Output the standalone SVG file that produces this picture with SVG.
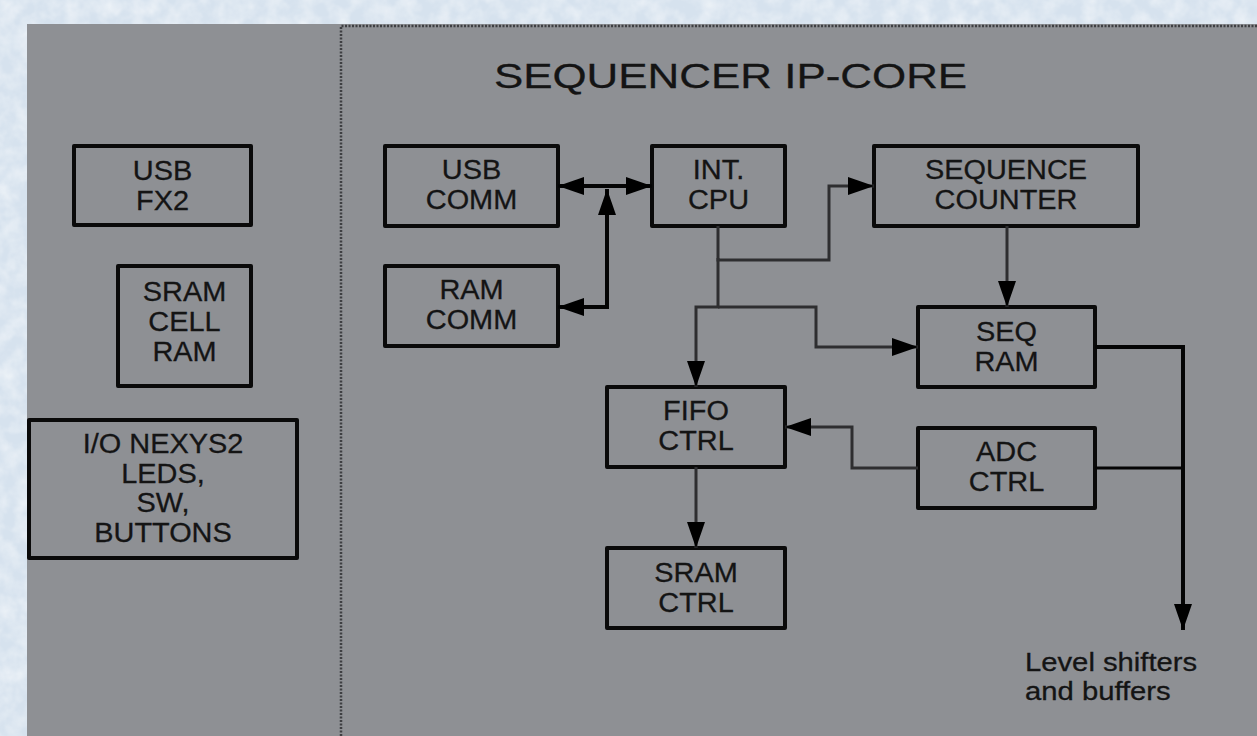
<svg xmlns="http://www.w3.org/2000/svg" width="1257" height="736" viewBox="0 0 1257 736">
  <defs>
    <filter id="mottle" x="0" y="0" width="100%" height="100%">
      <feTurbulence type="fractalNoise" baseFrequency="0.06" numOctaves="3" seed="4" result="n"/>
      <feColorMatrix in="n" type="matrix" values="0 0 0 0 1  0 0 0 0 1  0 0 0 0 1  0 0 0 -1.6 1.1"/>
    </filter>
    <marker id="ah" markerUnits="userSpaceOnUse" markerWidth="26" markerHeight="18" viewBox="0 0 26 18" refX="26" refY="9" orient="auto-start-reverse">
      <path d="M0,0 L26,9 L0,18 Z" fill="#000"/>
    </marker>
    <style>
      .box { fill: none; stroke: #0a0a0a; stroke-width: 4; stroke-linejoin: round; }
      .lbl { font-family: "Liberation Sans", Arial, sans-serif; font-size: 27px; fill: #141414; stroke: #141414; stroke-width: 0.3; text-anchor: middle; }
      .title { font-family: "Liberation Sans", Arial, sans-serif; font-size: 36px; fill: #141414; stroke: #141414; stroke-width: 0.3; text-anchor: middle; }
      .note { font-family: "Liberation Sans", Arial, sans-serif; font-size: 25px; fill: #141414; stroke: #141414; stroke-width: 0.3; }
      .bus { fill: none; stroke: #050505; stroke-width: 4; }
      .sig { fill: none; stroke: #2e2e30; stroke-width: 3; }
      .frame { fill: none; stroke: #3e3f42; stroke-width: 2.5; stroke-dasharray: 2 1.5; }
    </style>
  </defs>

  <!-- backdrop -->
  <rect x="0" y="0" width="1257" height="736" fill="#d6e2ee"/>
  <rect x="0" y="0" width="1257" height="736" filter="url(#mottle)" opacity="0.55"/>
  <rect x="27" y="24" width="1230" height="712" fill="#8e9094"/>

  <!-- IP-core boundary -->
  <path class="frame" d="M341,736 L341,26 L1257,26"/>
  <text class="title" transform="translate(730.5 0) scale(1.22 1)" x="0" y="88">SEQUENCER IP-CORE</text>

  <!-- board peripherals -->
  <g id="usb-fx2">
    <rect class="box" x="74" y="146" width="177" height="79"/>
    <g transform="translate(162.5 0) scale(1.07 1)">
      <text class="lbl" x="0" y="180">USB</text>
      <text class="lbl" x="0" y="210">FX2</text>
    </g>
  </g>
  <g id="sram-cell-ram">
    <rect class="box" x="118" y="266" width="133" height="120"/>
    <g transform="translate(184.5 0) scale(1.07 1)">
      <text class="lbl" x="0" y="301">SRAM</text>
      <text class="lbl" x="0" y="331">CELL</text>
      <text class="lbl" x="0" y="361">RAM</text>
    </g>
  </g>
  <g id="io-nexys2">
    <rect class="box" x="29" y="420" width="268" height="138"/>
    <g transform="translate(163 0) scale(1.07 1)">
      <text class="lbl" x="0" y="453">I/O NEXYS2</text>
      <text class="lbl" x="0" y="483">LEDS,</text>
      <text class="lbl" x="0" y="512">SW,</text>
      <text class="lbl" x="0" y="542">BUTTONS</text>
    </g>
  </g>

  <!-- sequencer core blocks -->
  <g id="usb-comm">
    <rect class="box" x="385" y="146" width="173" height="80"/>
    <g transform="translate(471.5 0) scale(1.07 1)">
      <text class="lbl" x="0" y="179">USB</text>
      <text class="lbl" x="0" y="209">COMM</text>
    </g>
  </g>
  <g id="ram-comm">
    <rect class="box" x="385" y="266" width="173" height="80"/>
    <g transform="translate(471.5 0) scale(1.07 1)">
      <text class="lbl" x="0" y="299">RAM</text>
      <text class="lbl" x="0" y="329">COMM</text>
    </g>
  </g>
  <g id="int-cpu">
    <rect class="box" x="652" y="146" width="133" height="80"/>
    <g transform="translate(718.5 0) scale(1.07 1)">
      <text class="lbl" x="0" y="179">INT.</text>
      <text class="lbl" x="0" y="209">CPU</text>
    </g>
  </g>
  <g id="sequence-counter">
    <rect class="box" x="874" y="146" width="264" height="80"/>
    <g transform="translate(1006 0) scale(1.07 1)">
      <text class="lbl" x="0" y="179">SEQUENCE</text>
      <text class="lbl" x="0" y="209">COUNTER</text>
    </g>
  </g>
  <g id="seq-ram">
    <rect class="box" x="918" y="307" width="177" height="80"/>
    <g transform="translate(1006.5 0) scale(1.07 1)">
      <text class="lbl" x="0" y="341">SEQ</text>
      <text class="lbl" x="0" y="371">RAM</text>
    </g>
  </g>
  <g id="fifo-ctrl">
    <rect class="box" x="607" y="387" width="178" height="80"/>
    <g transform="translate(696 0) scale(1.07 1)">
      <text class="lbl" x="0" y="420">FIFO</text>
      <text class="lbl" x="0" y="450">CTRL</text>
    </g>
  </g>
  <g id="adc-ctrl">
    <rect class="box" x="918" y="428" width="177" height="80"/>
    <g transform="translate(1006.5 0) scale(1.07 1)">
      <text class="lbl" x="0" y="461">ADC</text>
      <text class="lbl" x="0" y="491">CTRL</text>
    </g>
  </g>
  <g id="sram-ctrl">
    <rect class="box" x="607" y="548" width="178" height="80"/>
    <g transform="translate(696 0) scale(1.07 1)">
      <text class="lbl" x="0" y="582">SRAM</text>
      <text class="lbl" x="0" y="612">CTRL</text>
    </g>
  </g>

  <!-- connectors -->
  <g id="connectors">
    <path class="bus" d="M558,186 L652,186" marker-start="url(#ah)" marker-end="url(#ah)"/>
    <path class="bus" d="M607,189 L607,307 L558,307" marker-start="url(#ah)" marker-end="url(#ah)"/>
    <path class="sig" d="M718,226 L718,260 L829,260 L829,186 L874,186" marker-end="url(#ah)"/>
    <path class="sig" d="M718,258 L718,307 L696,307 L696,387" marker-end="url(#ah)"/>
    <path class="sig" d="M718,307 L816,307 L816,347 L918,347" marker-end="url(#ah)"/>
    <path class="sig" d="M1007,226 L1007,307" marker-end="url(#ah)"/>
    <path class="sig" d="M918,468 L852,468 L852,427 L785,427" marker-end="url(#ah)"/>
    <path class="sig" d="M696,467 L696,548" marker-end="url(#ah)"/>
    <path class="bus" d="M1095,347 L1183,347 L1183,630" marker-end="url(#ah)"/>
    <path class="sig" d="M1095,468 L1183,468" style="stroke:#050505"/>
  </g>

  <g id="output-note" transform="translate(1025 0) scale(1.17 1)">
    <text class="note" x="0" y="671">Level shifters</text>
    <text class="note" x="0" y="700">and buffers</text>
  </g>
</svg>
